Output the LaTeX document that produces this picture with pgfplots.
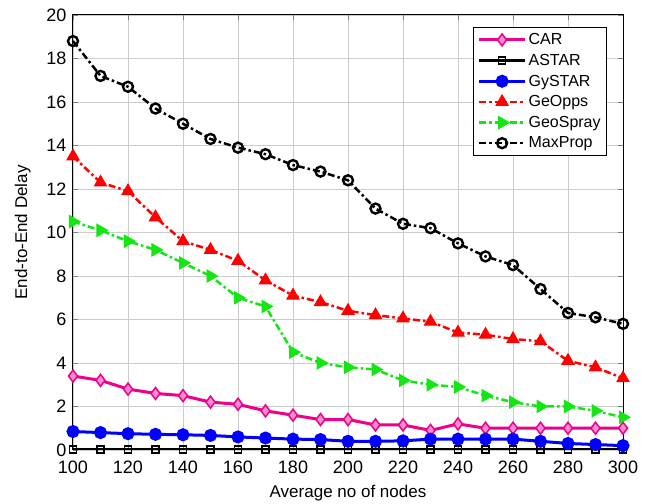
\documentclass[border=0pt]{standalone}
\usepackage{pgfplots}
\pgfplotsset{compat=1.18}
\usepackage{fontspec}
\setmainfont{Liberation Sans}
\definecolor{mgreen}{RGB}{20,230,20}
\tikzset{ddot/.style={dash pattern=on 7pt off 3pt on 2.5pt off 3pt}}
\begin{document}
\begin{tikzpicture}
\begin{axis}[name=ax,scale only axis,width=550pt,height=435pt,
  xmin=100,xmax=300,ymin=0,ymax=20,
  xtick={100,120,...,300},ytick={0,2,...,20},
  grid=major,grid style={gray!40,line width=0.8pt},
  tick align=inside,axis line style={line width=1pt},
  major tick length=5pt,
  ticklabel style={font=\fontsize{18}{20}\selectfont},
  xticklabel style={yshift=-7pt},
  yticklabel style={xshift=-3pt},
  /pgf/number format/assume math mode=true,
  xlabel={Average no of nodes},ylabel={End-to-End Delay},
  label style={font=\fontsize{17}{19}\selectfont},
  xlabel style={yshift=-5pt},ylabel style={yshift=9pt},
  legend style={at={(0.971,0.972)},anchor=north east,font=\fontsize{16}{18}\selectfont,
    draw=black,line width=0.8pt,row sep=4pt,inner sep=4pt},
  legend cell align=left,
  legend image code/.code={\draw[mark repeat=2,mark phase=2] plot coordinates {(0pt,0pt) (23pt,0pt) (46pt,0pt)};}
]
\addplot[magenta,line width=3pt,mark=diamond*,mark size=6pt,mark options={solid,fill=magenta!45,line width=1.5pt}] coordinates {
(100,3.4)(110,3.2)(120,2.8)(130,2.6)(140,2.5)(150,2.2)(160,2.1)(170,1.8)(180,1.6)(190,1.4)(200,1.4)
(210,1.15)(220,1.15)(230,0.9)(240,1.2)(250,1.0)(260,1.0)(270,1.0)(280,1.0)(290,1.0)(300,1.0)};
\addlegendentry{CAR}
\addplot[black,line width=3pt,mark=square,mark size=3.5pt,mark options={solid,line width=1.5pt}] coordinates {
(100,0.03)(110,0.03)(120,0.03)(130,0.03)(140,0.03)(150,0.03)(160,0.03)(170,0.03)(180,0.03)(190,0.03)(200,0.03)
(210,0.03)(220,0.03)(230,0.03)(240,0.03)(250,0.03)(260,0.03)(270,0.03)(280,0.03)(290,0.03)(300,0.03)};
\addlegendentry{ASTAR}
\addplot[blue,line width=3pt,mark=*,mark size=5pt,mark options={solid}] coordinates {
(100,0.85)(110,0.8)(120,0.75)(130,0.72)(140,0.7)(150,0.67)(160,0.6)(170,0.55)(180,0.5)(190,0.48)(200,0.4)
(210,0.4)(220,0.42)(230,0.5)(240,0.5)(250,0.5)(260,0.5)(270,0.4)(280,0.3)(290,0.25)(300,0.2)};
\addlegendentry{GySTAR}
\addplot[red,line width=2.5pt,ddot,mark=triangle*,mark size=7pt,mark options={solid,line width=1pt}] coordinates {
(100,13.5)(110,12.3)(120,11.9)(130,10.7)(140,9.6)(150,9.2)(160,8.7)(170,7.8)(180,7.1)(190,6.8)(200,6.4)
(210,6.2)(220,6.05)(230,5.9)(240,5.4)(250,5.3)(260,5.1)(270,5.0)(280,4.1)(290,3.8)(300,3.3)};
\addlegendentry{GeOpps}
\addplot[mgreen,line width=2.5pt,ddot,mark=triangle*,mark size=7pt,mark options={solid,rotate=-90,line width=1pt}] coordinates {
(100,10.5)(110,10.1)(120,9.6)(130,9.2)(140,8.6)(150,8.0)(160,7.0)(170,6.6)(180,4.5)(190,4.0)(200,3.8)
(210,3.7)(220,3.2)(230,3.0)(240,2.9)(250,2.5)(260,2.2)(270,2.0)(280,2.0)(290,1.8)(300,1.5)};
\addlegendentry{GeoSpray}
\addplot[black,line width=2.5pt,ddot,mark=o,mark size=5pt,mark options={solid,line width=2.4pt}] coordinates {
(100,18.8)(110,17.2)(120,16.7)(130,15.7)(140,15.0)(150,14.3)(160,13.9)(170,13.6)(180,13.1)(190,12.8)(200,12.4)
(210,11.1)(220,10.4)(230,10.2)(240,9.5)(250,8.9)(260,8.5)(270,7.4)(280,6.3)(290,6.1)(300,5.8)};
\addlegendentry{MaxProp}
\end{axis}
\pgfresetboundingbox
\path ([xshift=-73pt,yshift=-54pt]ax.south west) rectangle ([xshift=23pt,yshift=15pt]ax.north east);
\end{tikzpicture}
\end{document}
